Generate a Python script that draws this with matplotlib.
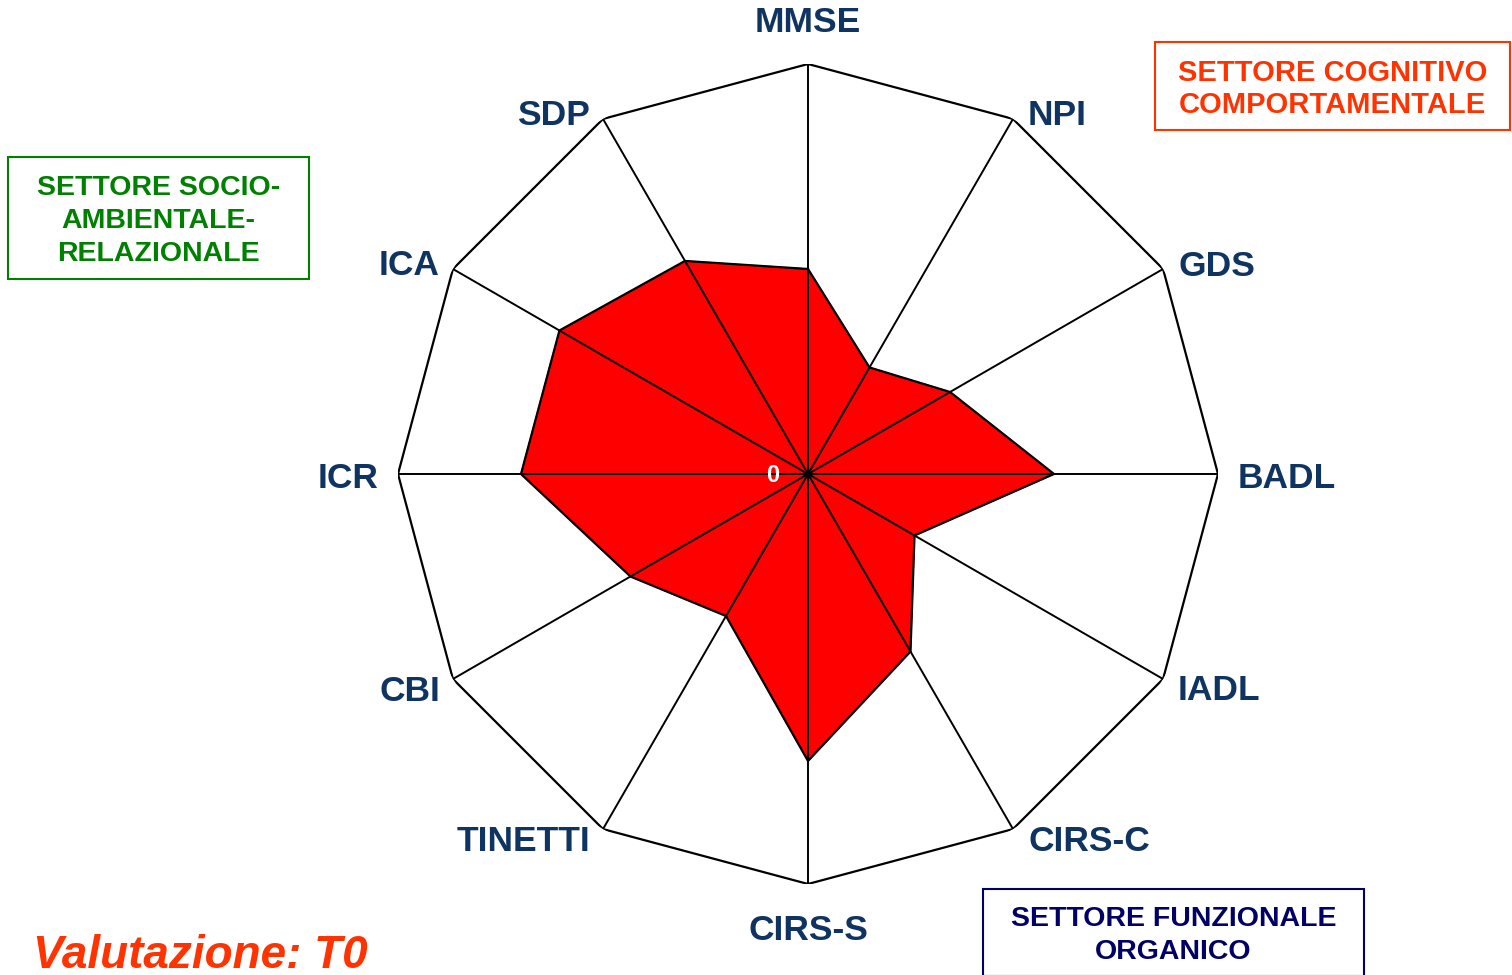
import numpy as np
import matplotlib
matplotlib.use('Agg')
import matplotlib.pyplot as plt
from matplotlib.patches import Rectangle

# dati della valutazione T0 (scala 0-10)
categories = ['MMSE', 'NPI', 'GDS', 'BADL', 'IADL', 'CIRS-C',
              'CIRS-S', 'TINETTI', 'CBI', 'ICR', 'ICA', 'SDP']
values = [5, 3, 4, 6, 3, 5, 7, 4, 5, 7, 7, 6]
r_max = 10

plt.rcParams['font.family'] = ['Liberation Sans', 'DejaVu Sans']

W, H = 1512, 975
fig = plt.figure(figsize=(W / 100, H / 100), dpi=100)

# centro del radar (808, 474), raggio 410 px
cx, cy, R = 808, 474, 410
ax = fig.add_axes([(cx - R) / W, (H - cy - R) / H, 2 * R / W, 2 * R / H],
                  projection='polar')
ax.set_theta_zero_location('N')
ax.set_theta_direction(-1)
ax.set_ylim(0, r_max)
ax.grid(False)
ax.set_xticks([])
ax.set_yticks([])
ax.spines['polar'].set_visible(False)
ax.patch.set_alpha(0)

n = len(categories)
theta = np.arange(n) * 2 * np.pi / n
theta_c = np.append(theta, theta[0])

# area rossa
vals_c = np.append(values, values[0])
ax.fill(theta_c, vals_c, color='#FF0000', zorder=2)
ax.plot(theta_c, vals_c, color='black', lw=1.6, zorder=4)

# cornice esterna e raggi
ax.plot(theta_c, np.full(n + 1, r_max), color='black', lw=1.6, zorder=3)
for t in theta:
    ax.plot([t, t], [0, r_max], color='black', lw=1.4, zorder=3)

# etichette degli assi
lab_col = '#0F3461'
for t, name in zip(theta, categories):
    s, c = np.sin(t), np.cos(t)
    if abs(s) < 0.1:
        ha = 'center'
        dx = 0
        dy = 41 if c > 0 else -47
    else:
        ha = 'left' if s > 0 else 'right'
        if abs(c) < 0.1:
            dx = 20 if s > 0 else -19
            dy = -5
        else:
            dx = 15 if s > 0 else -13
            dy = 3 if c > 0 else -12
    ax.annotate(name, xy=(t, r_max), xytext=(dx, dy), textcoords='offset pixels',
                ha=ha, va='center', fontsize=25.5, fontweight='bold',
                color=lab_col, annotation_clip=False)

ax.annotate('0', xy=(0, 0), xytext=(-35, -2), textcoords='offset pixels',
            ha='center', va='center', fontsize=17, fontweight='bold',
            color='white', zorder=5)


def box(x0, y0, x1, y1, text, color, fs, ls):
    fig.add_artist(Rectangle((x0 / W, 1 - y1 / H), (x1 - x0) / W, (y1 - y0) / H,
                             transform=fig.transFigure, fill=False,
                             edgecolor=color, lw=1.5))
    fig.text((x0 + x1) / 2 / W, 1 - ((y0 + y1) / 2 + 3) / H, text, ha='center',
             va='center', fontsize=fs, fontweight='bold', color=color,
             linespacing=ls, multialignment='center')


box(1155, 42, 1510, 130, 'SETTORE COGNITIVO\nCOMPORTAMENTALE', '#FF3300', 21, 1.19)
box(8, 157, 309, 279, 'SETTORE SOCIO-\nAMBIENTALE-\nRELAZIONALE', '#008000', 20.5, 1.37)
box(983, 889, 1364, 976, 'SETTORE FUNZIONALE\nORGANICO', '#000066', 20.5, 1.35)

fig.text(33 / W, 1 - 968 / H, 'Valutazione: T0', ha='left', va='baseline',
         fontsize=33, fontweight='bold', fontstyle='italic', color='#FF3300')

fig.savefig('out.png', dpi=100, facecolor='white')
